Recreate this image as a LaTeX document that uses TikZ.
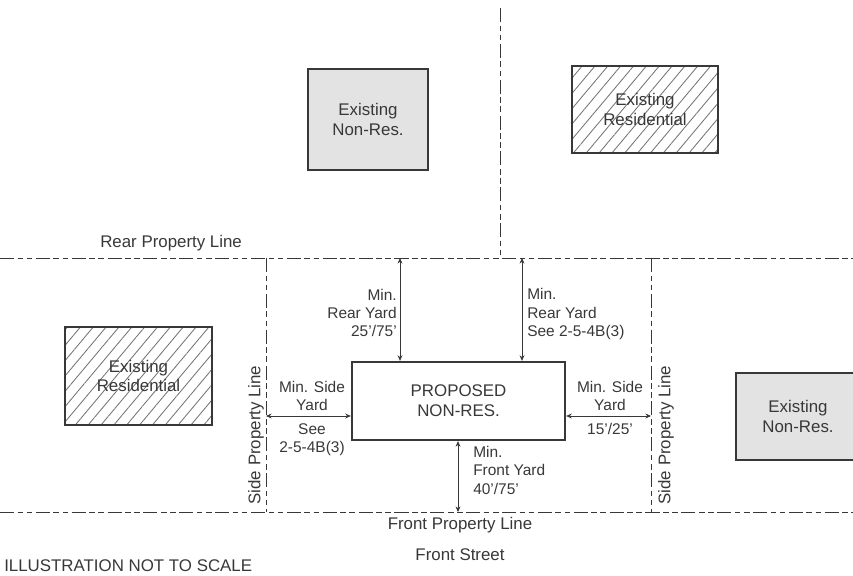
\documentclass[tikz,border=0pt]{standalone}
\usepackage{fontspec}
\setmainfont{Liberation Sans}
\usepackage{tikz}
\usetikzlibrary{arrows.meta,patterns.meta}

\definecolor{ink}{gray}{0.22}
\tikzset{
  propline/.style={ink, line width=0.6pt, dash pattern=on 10pt off 2.5pt on 4pt off 2.5pt on 4pt off 2.5pt},
  nonres/.style={draw=ink, line width=1.4pt, fill=gray!22, text=ink, align=center, font=\fontsize{12}{14}\selectfont},
  resid/.style={draw=ink, line width=1pt, pattern={Lines[angle=50, distance=7pt, line width=0.6pt]}, pattern color=black!55, text=ink, align=center, font=\fontsize{12}{14}\selectfont},
  dim/.style={ink, line width=0.5pt, {Stealth[length=4pt,width=3.5pt]}-{Stealth[length=4pt,width=3.5pt]}},
  lbl/.style={text=ink, font=\fontsize{11}{13}\selectfont, inner sep=0pt},
  linelbl/.style={lbl, font=\fontsize{12}{14}\selectfont}
}

\begin{document}
\begin{tikzpicture}[x=0.025cm, y=-0.025cm]
    \def\px{0.025cm}
    \useasboundingbox (0,0) rectangle (853,576);
    \clip (0,0) rectangle (853,576);
    % property lines
    \coordinate (rear-w) at (0,258);
    \coordinate (rear-e) at (853,258);
    \coordinate (front-w) at (0,512);
    \coordinate (front-e) at (853,512);
    \coordinate (mid-n) at (500,8);
    \coordinate (mid-s) at (500,258);
    \coordinate (lside-n) at (266,258);
    \coordinate (lside-s) at (266,512);
    \coordinate (rside-n) at (651,258);
    \coordinate (rside-s) at (651,512);
    \draw[propline] (rear-w) -- (rear-e);
    \draw[propline] (front-w) -- (front-e);
    \draw[propline] (mid-n) -- (mid-s);
    \draw[propline] (lside-n) -- (lside-s);
    \draw[propline] (rside-n) -- (rside-s);
    % buildings
    \node[nonres, minimum width=120*\px, minimum height=101*\px] (nr-top) at (368,119.5) {Existing\\Non-Res.};
    \node[resid, minimum width=146*\px, minimum height=87*\px] (res-top) at (645,109.5) {Existing\\Residential};
    \node[resid, minimum width=147*\px, minimum height=98*\px] (res-left) at (138.5,376) {Existing\\Residential};
    \node[nonres, minimum width=124*\px, minimum height=87*\px] (nr-right) at (798,416.5) {Existing\\Non-Res.};
    \node[nonres, fill=white, line width=1.6pt, minimum width=213*\px, minimum height=78*\px] (prop) at (458.5,401) {PROPOSED\\NON-RES.};
    % setbacks
    \coordinate (ry-l) at (400,258);
    \coordinate (ry-r) at (522,258);
    \coordinate (sy-l) at (266,416);
    \coordinate (sy-r) at (651,416);
    \coordinate (fy) at (458,512);
    \draw[dim] (ry-l) -- (ry-l |- prop.north);
    \draw[dim] (ry-r) -- (ry-r |- prop.north);
    \draw[dim] (sy-l) -- (sy-l -| prop.west);
    \draw[dim] (sy-r) -- (sy-r -| prop.east);
    \draw[dim] (fy) -- (fy |- prop.south);
    % labels
    \node[linelbl, anchor=west] (rear-lbl) at (100,243) {Rear Property Line};
    \node[lbl, anchor=east, align=right] (ry-l-lbl) at (397,313) {Min.\\Rear Yard\\25'/75'};
    \node[lbl, anchor=west, align=left] (ry-r-lbl) at (527,314) {Min.\\Rear Yard\\See 2-5-4B(3)};
    \node[lbl, anchor=south, align=center] (sy-l-top) at (312,411) {Min. Side\\Yard};
    \node[lbl, anchor=north, align=center] (sy-l-bot) at (312,423) {See\\2-5-4B(3)};
    \node[lbl, anchor=south, align=center] (sy-r-top) at (610,411) {Min. Side\\Yard};
    \node[lbl, anchor=north, align=center] (sy-r-bot) at (610,423) {15'/25'};
    \node[lbl, anchor=north west, align=left] (fy-lbl) at (473,446) {Min.\\Front Yard\\40'/75'};
    \node[linelbl, rotate=90] (lside-lbl) at (256,435) {Side Property Line};
    \node[linelbl, rotate=90] (rside-lbl) at (666,435) {Side Property Line};
    \node[linelbl] (front-lbl) at (460,525) {Front Property Line};
    \node[linelbl] (street-lbl) at (460,555) {Front Street};
    \node[linelbl, anchor=west] (scale-lbl) at (4,566) {ILLUSTRATION NOT TO SCALE};
\end{tikzpicture}
\end{document}
